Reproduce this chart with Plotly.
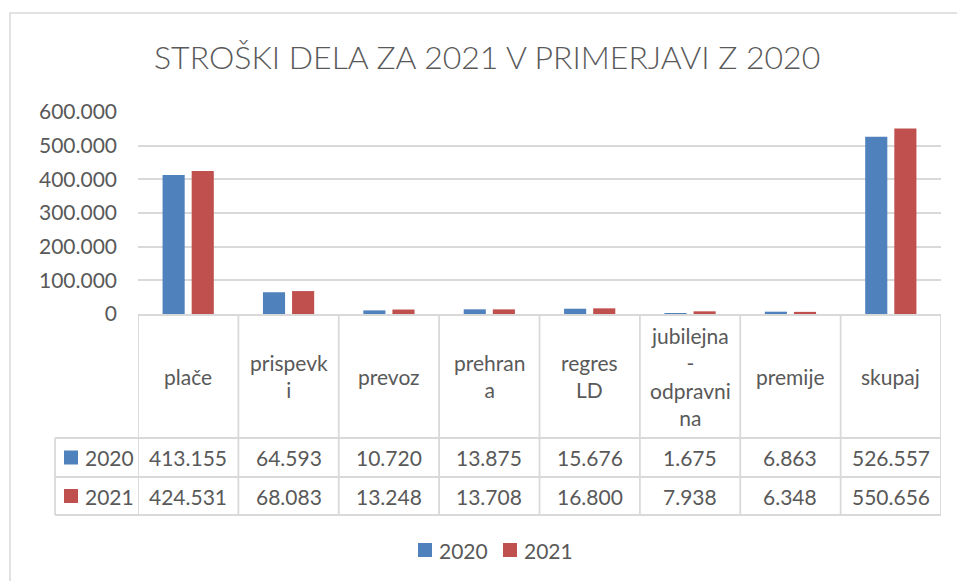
import plotly.graph_objects as go

# ---------------- data ----------------
categories = ["plače", "prispevki", "prevoz", "prehrana", "regres LD",
              "jubilejna - odpravnina", "premije", "skupaj"]
category_labels = ["plače", "prispevk<br>i", "prevoz", "prehran<br>a", "regres<br>LD",
                   "jubilejna<br>-<br>odpravni<br>na", "premije", "skupaj"]
values_2020 = [413155, 64593, 10720, 13875, 15676, 1675, 6863, 526557]
values_2021 = [424531, 68083, 13248, 13708, 16800, 7938, 6348, 550656]
series_names = ["2020", "2021"]
y_tick_values = [0, 100000, 200000, 300000, 400000, 500000, 600000]
title_text = "STROŠKI DELA ZA 2021 V PRIMERJAVI Z 2020"

# ---------------- style ----------------
W, H = 957, 581
ML, MR, MT, MB = 138, 16, 112, 66
FONT = "Lato"
TXT = "#595959"
GRID = "#d9d9d9"
COLORS = ["#4f81bd", "#c0504d"]
FS = 21


def px_x(p):
    return (p - ML) / (W - ML - MR)


def px_y(p):
    return (H - MB - p) / (H - MT - MB)


def fmt(v):
    return f"{v:,}".replace(",", ".")


series_values = [values_2020, values_2021]
idx = list(range(len(categories)))

fig = go.Figure()
for name, vals, col in zip(series_names, series_values, COLORS):
    fig.add_trace(go.Bar(x=idx, y=vals, name=name, marker=dict(color=col, line=dict(width=0)),
                         hovertext=categories, showlegend=False))

shapes = []
annotations = []

# outer chart border
shapes.append(dict(type="rect", xref="paper", yref="paper",
                   x0=px_x(10), x1=px_x(990), y0=px_y(13), y1=px_y(600),
                   line=dict(color=GRID, width=1.5), fillcolor="rgba(0,0,0,0)", layer="below"))

# table geometry (pixel rows)
T_TOP, T_HEAD, T_R1, T_R2 = 314, 438, 477, 515
LEFT_COL = 55
LW = 1.8

# vertical lines at category boundaries
for i in range(len(categories) + 1):
    shapes.append(dict(type="line", xref="x", yref="paper", x0=i - 0.5, x1=i - 0.5,
                       y0=px_y(T_TOP), y1=px_y(T_R2), line=dict(color=GRID, width=LW)))
# left column vertical
shapes.append(dict(type="line", xref="paper", yref="paper", x0=px_x(LEFT_COL), x1=px_x(LEFT_COL),
                   y0=px_y(T_HEAD), y1=px_y(T_R2), line=dict(color=GRID, width=LW)))
# horizontal lines
for yy in [T_HEAD, T_R1, T_R2]:
    shapes.append(dict(type="line", xref="paper", yref="paper", x0=px_x(LEFT_COL), x1=1,
                       y0=px_y(yy), y1=px_y(yy), line=dict(color=GRID, width=LW)))

# category header labels
for i, lab in enumerate(category_labels):
    annotations.append(dict(x=i, xref="x", y=px_y((T_TOP + T_HEAD) / 2), yref="paper",
                            text=lab, showarrow=False, xanchor="center", yanchor="middle",
                            font=dict(family=FONT, size=FS, color=TXT)))

# value rows
row_centers = [(T_HEAD + T_R1) / 2, (T_R1 + T_R2) / 2]
for r, (name, vals, col) in enumerate(zip(series_names, series_values, COLORS)):
    yc = row_centers[r]
    for i, v in enumerate(vals):
        annotations.append(dict(x=i, xref="x", y=px_y(yc), yref="paper", text=fmt(v),
                                showarrow=False, xanchor="center", yanchor="middle",
                                font=dict(family=FONT, size=FS, color=TXT)))
    # legend key in table
    shapes.append(dict(type="rect", xref="paper", yref="paper",
                       x0=px_x(64), x1=px_x(78), y0=px_y(yc - 7), y1=px_y(yc + 7),
                       fillcolor=col, line=dict(width=0)))
    annotations.append(dict(x=px_x(83), xref="paper", y=px_y(yc), yref="paper", text=name,
                            showarrow=False, xanchor="left", yanchor="middle",
                            font=dict(family=FONT, size=FS, color=TXT)))

# bottom legend (square key + label per series)
LEG_Y = 550
leg_keys = [418, 503]
for name, col, kx in zip(series_names, COLORS, leg_keys):
    shapes.append(dict(type="rect", xref="paper", yref="paper",
                       x0=px_x(kx), x1=px_x(kx + 14), y0=px_y(LEG_Y - 7), y1=px_y(LEG_Y + 7),
                       fillcolor=col, line=dict(width=0)))
    annotations.append(dict(x=px_x(kx + 19), xref="paper", y=px_y(LEG_Y), yref="paper", text=name,
                            showarrow=False, xanchor="left", yanchor="middle",
                            font=dict(family=FONT, size=FS, color=TXT)))

# title
annotations.append(dict(x=px_x(487), xref="paper", y=px_y(56), yref="paper", text=title_text,
                        showarrow=False, xanchor="center", yanchor="middle",
                        font=dict(family=FONT, size=32, color=TXT, weight=300)))

fig.update_layout(
    width=W, height=H,
    margin=dict(l=ML, r=MR, t=MT, b=MB),
    paper_bgcolor="white", plot_bgcolor="white",
    separators=",.",
    barmode="group", bargap=0.42, bargroupgap=0.24,
    showlegend=False,
    xaxis=dict(range=[-0.5, len(categories) - 0.5], showticklabels=False, showgrid=False,
               zeroline=False, showline=True, linecolor=GRID, linewidth=LW, ticks=""),
    yaxis=dict(domain=[px_y(T_TOP), 1], range=[0, 600000], tickvals=y_tick_values,
               tickformat=",d", showgrid=True, gridcolor=GRID, gridwidth=1.8,
               zeroline=False, showline=False, ticks="", ticklabelstandoff=20,
               tickfont=dict(family=FONT, size=FS, color=TXT)),
    shapes=shapes,
    annotations=annotations,
    font=dict(family=FONT, color=TXT),
)

fig.write_html("out.html", config={"displayModeBar": False},
               post_script="document.body.style.margin='0';")
